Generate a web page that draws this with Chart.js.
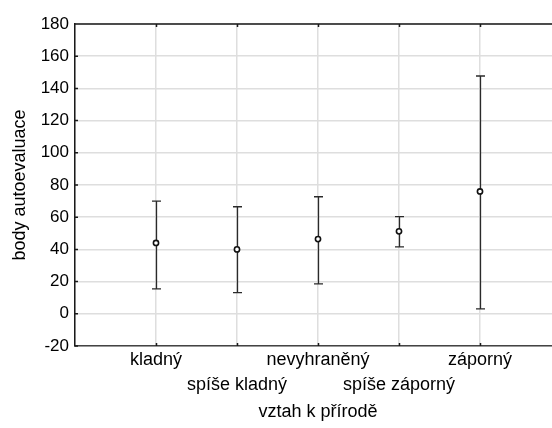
<!DOCTYPE html>
<html>
<head>
<meta charset="utf-8">
<script src="https://cdn.jsdelivr.net/npm/chart.js@4/dist/chart.umd.min.js"></script>
<style>
  html, body { margin: 0; padding: 0; background: #fff; width: 552px; height: 428px; overflow: hidden; }
  #wrap { width: 570px; height: 428px; position: relative; }
</style>
</head>
<body>
<div id="wrap"><canvas id="canvas"></canvas></div>
<script>
        // data
        var categories = ['kladný', 'spíše kladný', 'nevyhraněný', 'spíše záporný', 'záporný'];
        var means = [44, 40, 46.4, 51.2, 76];
        var upper = [70, 66.5, 72.7, 60.3, 147.7];
        var lower = [15.5, 13.2, 18.6, 41.6, 3.1];
        var yTicks = [-20, 0, 20, 40, 60, 80, 100, 120, 140, 160, 180];

        // empty slot at each end, labels alternate between two rows
        var labels = [''];
        categories.forEach(function(c, i){
            labels.push(i % 2 == 0 ? [c, ''] : ['', c]);
        });
        labels.push('');
        function pad(arr){ return [null].concat(arr, [null]); }

        var errorBars = {
            id: 'errorBars',
            beforeDatasetsDraw: function(chart){
                var ctx = chart.ctx, xs = chart.scales.x, ys = chart.scales.y;
                var hi = pad(upper), lo = pad(lower);
                ctx.save();
                ctx.strokeStyle = '#2a2a2a';
                ctx.lineWidth = 1.3;
                for (var i = 0; i < labels.length; i++) {
                    if (hi[i] == null) continue;
                    var x = Math.round(xs.getPixelForValue(i)) + 0.5;
                    var y1 = ys.getPixelForValue(hi[i]), y2 = ys.getPixelForValue(lo[i]);
                    ctx.beginPath();
                    ctx.moveTo(x, y1); ctx.lineTo(x, y2);
                    ctx.moveTo(x - 4.5, y1); ctx.lineTo(x + 4.5, y1);
                    ctx.moveTo(x - 4.5, y2); ctx.lineTo(x + 4.5, y2);
                    ctx.stroke();
                }
                ctx.restore();
            },
            afterDraw: function(chart){
                // top frame line and small inner ticks
                var ctx = chart.ctx, a = chart.chartArea, xs = chart.scales.x, ys = chart.scales.y;
                ctx.save();
                ctx.strokeStyle = '#1a1a1a';
                ctx.lineWidth = 1.5;
                ctx.beginPath();
                ctx.moveTo(a.left, a.top); ctx.lineTo(a.right, a.top);
                for (var i = 1; i < labels.length - 1; i++) {
                    var x = Math.round(xs.getPixelForValue(i)) + 0.5;
                    ctx.moveTo(x, a.top); ctx.lineTo(x, a.top + 3);
                    ctx.moveTo(x, a.bottom); ctx.lineTo(x, a.bottom - 3);
                }
                yTicks.forEach(function(v){
                    var y = ys.getPixelForValue(v);
                    ctx.moveTo(a.left, y); ctx.lineTo(a.left + 3, y);
                });
                ctx.stroke();
                ctx.restore();
            }
        };

        Chart.defaults.font.family = '"Liberation Sans", Arial, sans-serif';
        Chart.defaults.color = '#000';

        var ctx = document.getElementById('canvas').getContext('2d');
        window.myChart = new Chart(ctx, {
            type: 'line',
            data: {
                labels: labels,
                datasets: [{
                    label: 'body autoevaluace',
                    data: pad(means),
                    showLine: false,
                    pointRadius: 2.6,
                    pointBorderWidth: 1.6,
                    pointBorderColor: '#111',
                    pointBackgroundColor: '#fff'
                }]
            },
            options: {
                responsive: true,
                maintainAspectRatio: false,
                animation: false,
                events: [],
                layout: { padding: { left: 0, top: 24, right: 9, bottom: 0 } },
                plugins: { legend: { display: false }, tooltip: { enabled: false } },
                scales: {
                    x: {
                        type: 'category',
                        offset: false,
                        afterFit: function(s){ s.height = 82; },
                        grid: { color: '#dedede', lineWidth: 1.5, drawTicks: false },
                        border: { color: '#444', width: 1.5 },
                        ticks: {
                            autoSkip: false, maxRotation: 0, minRotation: 0, padding: 2,
                            font: { size: 18, lineHeight: 1.39 }
                        },
                        title: {
                            display: true, text: 'vztah k přírodě',
                            font: { size: 18 }, padding: { top: 0, bottom: 5 }
                        }
                    },
                    y: {
                        min: -20, max: 180,
                        afterFit: function(s){ s.width = 75; },
                        afterBuildTicks: function(s){ s.ticks = yTicks.map(function(v){ return { value: v }; }); },
                        grid: { color: '#dedede', lineWidth: 1.5, drawTicks: false },
                        border: { color: '#1a1a1a', width: 1.5 },
                        ticks: { padding: 6, font: { size: 17 } },
                        title: {
                            display: true, text: 'body autoevaluace',
                            font: { size: 18 }, padding: { top: 9, bottom: 0 }
                        }
                    }
                }
            },
            plugins: [errorBars]
        });
</script>
</body>
</html>
